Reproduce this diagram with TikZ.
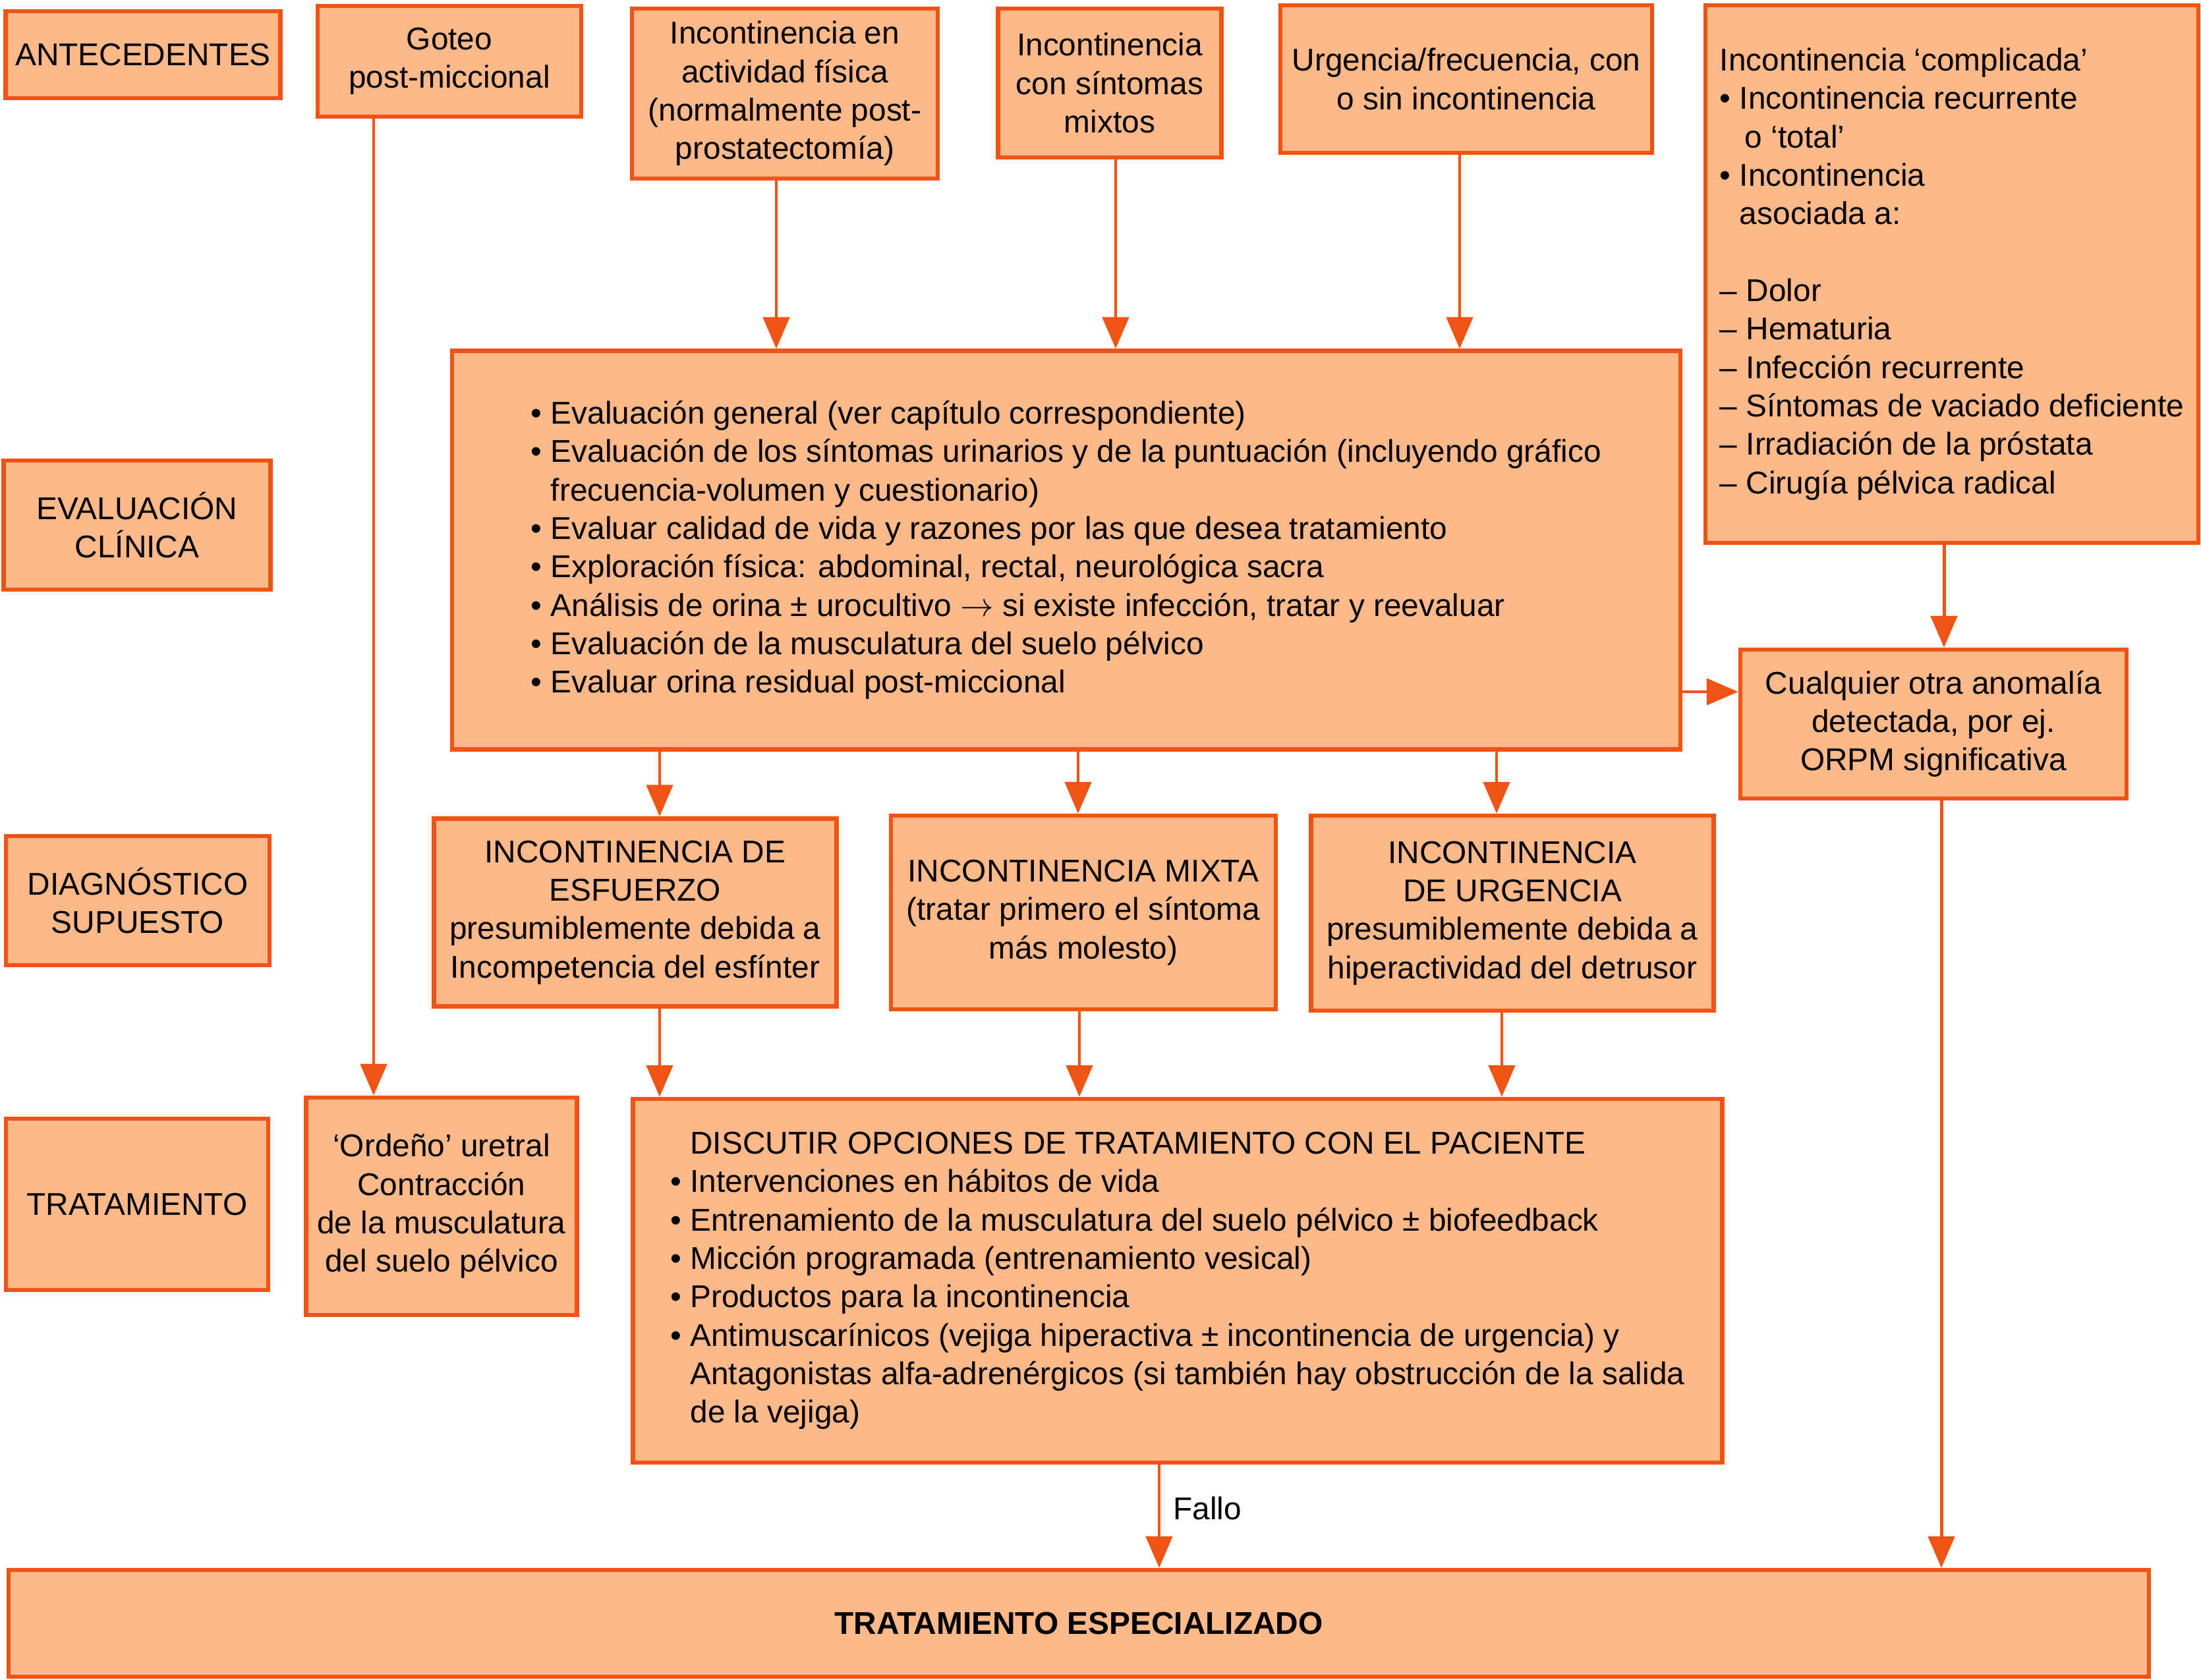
\documentclass[tikz,border=0pt]{standalone}
\usepackage{fontspec}
\setmainfont{Liberation Sans}
\usetikzlibrary{arrows.meta,calc}
\definecolor{boxfill}{RGB}{253,185,138}
\definecolor{boxline}{RGB}{240,84,20}
\tikzstyle{line} = [draw=boxline, line width=1.4pt, -{Triangle[width=0.40cm,length=0.48cm]}]
\tikzstyle{block} = [draw=boxline, fill=boxfill, line width=1.8pt, rectangle, align=center, inner sep=0pt]
\tikzstyle{listblock} = [block, align=left]
\tikzstyle{stage} = [block, minimum width=4.05cm, minimum height=1.96cm]

\begin{document}
\begin{tikzpicture}[font=\fontsize{13.6pt}{16.6pt}\selectfont]
        \useasboundingbox (0,0) rectangle (33.40,-25.49);
        % etapas
        \node[stage, minimum width=4.17cm, minimum height=1.32cm] (antec) at (2.17,-0.83) {ANTECEDENTES};
        \node[stage] (evalc) at (2.08,-7.97) {EVALUACIÓN\\CLÍNICA};
        \node[stage, minimum width=4.00cm] (diagn) at (2.09,-13.67) {DIAGNÓSTICO\\SUPUESTO};
        \node[stage, minimum width=3.98cm, minimum height=2.60cm] (tratam) at (2.08,-18.28) {TRATAMIENTO};
        % antecedentes
        \node[block, minimum width=4.00cm, minimum height=1.68cm] (goteo) at (6.82,-0.93) {Goteo\\post-miccional};
        \node[block, minimum width=4.64cm, minimum height=2.58cm] (activ) at (11.91,-1.42) {Incontinencia en\\actividad física\\(normalmente post-\\prostatectomía)};
        \node[block, minimum width=3.39cm, minimum height=2.26cm] (mixtos) at (16.84,-1.26) {Incontinencia\\con síntomas\\mixtos};
        \node[block, minimum width=5.64cm, minimum height=2.24cm] (urgfr) at (22.25,-1.20) {Urgencia/frecuencia, con\\o sin incontinencia};
        \node[listblock, minimum width=7.48cm, minimum height=8.16cm] (compl) at (29.62,-4.16) {Incontinencia ‘complicada’\\
            • Incontinencia recurrente\\
            \phantom{• }\,o ‘total’\\
            • Incontinencia\\
            \phantom{• }asociada a:\\[16.6pt]
            – Dolor\\
            – Hematuria\\
            – Infección recurrente\\
            – Síntomas de vaciado deficiente\\
            – Irradiación de la próstata\\
            – Cirugía pélvica radical};
        % evaluacion
        \node[listblock, minimum width=18.64cm, minimum height=6.05cm] (evalu) at (16.18,-8.35) {• Evaluación general (ver capítulo correspondiente)\\
            • Evaluación de los síntomas urinarios y de la puntuación (incluyendo gráfico\\
            \phantom{• }frecuencia-volumen y cuestionario)\\
            • Evaluar calidad de vida y razones por las que desea tratamiento\\
            • Exploración física: abdominal, rectal, neurológica sacra\\
            • Análisis de orina ± urocultivo $\rightarrow$ si existe infección, tratar y reevaluar\\
            • Evaluación de la musculatura del suelo pélvico\\
            • Evaluar orina residual post-miccional};
        \node[block, minimum width=5.86cm, minimum height=2.26cm] (anomal) at (29.34,-10.99) {Cualquier otra anomalía\\detectada, por ej.\\ORPM significativa};
        % diagnostico
        \node[block, minimum width=6.11cm, minimum height=2.85cm] (esfu) at (9.64,-13.85) {INCONTINENCIA DE\\ESFUERZO\\presumiblemente debida a\\Incompetencia del esfínter};
        \node[block, minimum width=5.84cm, minimum height=2.94cm] (mixta) at (16.44,-13.85) {INCONTINENCIA MIXTA\\(tratar primero el síntoma\\más molesto)};
        \node[block, minimum width=6.11cm, minimum height=2.96cm] (urge) at (22.95,-13.86) {INCONTINENCIA\\DE URGENCIA\\presumiblemente debida a\\hiperactividad del detrusor};
        % tratamiento
        \node[block, minimum width=4.11cm, minimum height=3.30cm] (ordeno) at (6.70,-18.31) {‘Ordeño’ uretral\\Contracción\\de la musculatura\\del suelo pélvico};
        \node[listblock, minimum width=16.53cm, minimum height=5.52cm] (discu) at (17.87,-19.44) {\phantom{• }DISCUTIR OPCIONES DE TRATAMIENTO CON EL PACIENTE\\
            • Intervenciones en hábitos de vida\\
            • Entrenamiento de la musculatura del suelo pélvico ± biofeedback\\
            • Micción programada (entrenamiento vesical)\\
            • Productos para la incontinencia\\
            • Antimuscarínicos (vejiga hiperactiva ± incontinencia de urgencia) y\\
            \phantom{• }Antagonistas alfa-adrenérgicos (si también hay obstrucción de la salida\\
            \phantom{• }de la vejiga)};
        \node[block, minimum width=32.48cm, minimum height=1.62cm] (espec) at (16.37,-24.64) {\bfseries TRATAMIENTO ESPECIALIZADO};
        % columnas de las flechas
        \coordinate (xgot) at (5.67,0);
        \coordinate (xact) at (11.78,0);
        \coordinate (xmix) at (16.93,0);
        \coordinate (xurg) at (22.15,0);
        \coordinate (xcom) at (29.50,0);
        \coordinate (xanm) at (29.46,0);
        \coordinate (xfal) at (17.59,0);
        \coordinate (yev) at (0,-10.50);
        \path[line] (goteo.south -| xgot) -- (ordeno.north -| xgot);
        \path[line] (activ.south -| xact) -- (evalu.north -| xact);
        \path[line] (mixtos.south -| xmix) -- (evalu.north -| xmix);
        \path[line] (urgfr.south -| xurg) -- (evalu.north -| xurg);
        \path[line] (compl.south -| xcom) -- (anomal.north -| xcom);
        \path[line] (evalu.east |- yev) -- (anomal.west |- yev);
        \path[line] (evalu.south -| 10.01,0) -- (esfu.north -| 10.01,0);
        \path[line] (evalu.south -| 16.36,0) -- (mixta.north -| 16.36,0);
        \path[line] (evalu.south -| 22.71,0) -- (urge.north -| 22.71,0);
        \path[line] (esfu.south -| 10.01,0) -- (discu.north -| 10.01,0);
        \path[line] (mixta.south -| 16.38,0) -- (discu.north -| 16.38,0);
        \path[line] (urge.south -| 22.79,0) -- (discu.north -| 22.79,0);
        \path[line] (discu.south -| xfal) -- node[right, pos=0.42, xshift=2pt] {Fallo} (espec.north -| xfal);
        \path[line] (anomal.south -| xanm) -- (espec.north -| xanm);
    \end{tikzpicture}
\end{document}
